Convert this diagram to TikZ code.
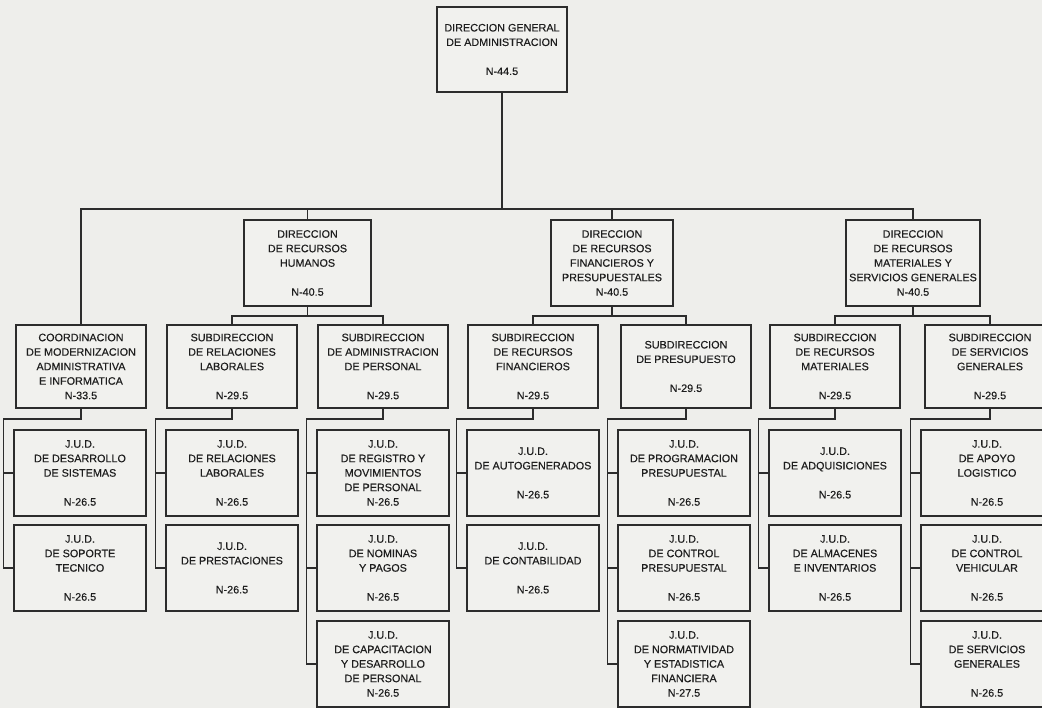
\documentclass[tikz,border=0pt]{standalone}
\usepackage{fontspec}
\setmainfont{Liberation Sans}
\newfontfamily\orgfont{Liberation Sans}[FakeBold=0.35]
\definecolor{bgc}{HTML}{EEEEEB}
\definecolor{boxc}{HTML}{F1F1EE}
\definecolor{linec}{HTML}{2C2C2C}
\definecolor{textc}{HTML}{1E1E1E}
\begin{document}
\begin{tikzpicture}[x=1pt,y=-1pt,
  box/.style={draw=linec, line width=1.4pt, fill=boxc, align=center, inner sep=0pt,
    font=\orgfont\fontsize{10.8}{14.5}\selectfont, text=textc},
  topbox/.style={box, minimum width=130pt, minimum height=85pt},
  dirbox/.style={box, minimum height=86pt},
  subbox/.style={box, minimum width=130pt, minimum height=83pt},
  judbox/.style={box, minimum width=132pt, minimum height=86pt},
  link/.style={draw=linec, line width=1.4pt}]
\fill[bgc] (0,0) rectangle (1042,708);
\useasboundingbox (0,0) rectangle (1042,708);

% top
\node[topbox] (top) at (502,49.5) {DIRECCION GENERAL\\DE ADMINISTRACION\\[14.5pt]N-44.5};

% directions
\node[dirbox, minimum width=127pt] (drh) at (307.5,263) {DIRECCION\\DE RECURSOS\\HUMANOS\\[14.5pt]N-40.5};
\node[dirbox, minimum width=122pt] (drf) at (612,263) {DIRECCION\\DE RECURSOS\\FINANCIEROS Y\\PRESUPUESTALES\\N-40.5};
\node[dirbox, minimum width=134pt] (drm) at (913,263) {DIRECCION\\DE RECURSOS\\MATERIALES Y\\SERVICIOS GENERALES\\N-40.5};

% subdirections
\node[subbox] (co) at (81,366.5) {COORDINACION\\DE MODERNIZACION\\ADMINISTRATIVA\\E INFORMATICA\\N-33.5};
\node[subbox] (srl) at (232,366.5) {SUBDIRECCION\\DE RELACIONES\\LABORALES\\[14.5pt]N-29.5};
\node[subbox] (sap) at (383,366.5) {SUBDIRECCION\\DE ADMINISTRACION\\DE PERSONAL\\[14.5pt]N-29.5};
\node[subbox] (srf) at (533,366.5) {SUBDIRECCION\\DE RECURSOS\\FINANCIEROS\\[14.5pt]N-29.5};
\node[subbox] (sp) at (686,366.5) {SUBDIRECCION\\DE PRESUPUESTO\\[14.5pt]N-29.5};
\node[subbox] (srm) at (835,366.5) {SUBDIRECCION\\DE RECURSOS\\MATERIALES\\[14.5pt]N-29.5};
\node[subbox] (ssg) at (990,366.5) {SUBDIRECCION\\DE SERVICIOS\\GENERALES\\[14.5pt]N-29.5};

% J.U.D. column 1
\node[judbox] (j11) at (80,473) {J.U.D.\\DE DESARROLLO\\DE SISTEMAS\\[14.5pt]N-26.5};
\node[judbox] (j12) at (80,568) {J.U.D.\\DE SOPORTE\\TECNICO\\[14.5pt]N-26.5};
% column 2
\node[judbox] (j21) at (232,473) {J.U.D.\\DE RELACIONES\\LABORALES\\[14.5pt]N-26.5};
\node[judbox] (j22) at (232,568) {J.U.D.\\DE PRESTACIONES\\[14.5pt]N-26.5};
% column 3
\node[judbox] (j31) at (383,473) {J.U.D.\\DE REGISTRO Y\\MOVIMIENTOS\\DE PERSONAL\\N-26.5};
\node[judbox] (j32) at (383,568) {J.U.D.\\DE NOMINAS\\Y PAGOS\\[14.5pt]N-26.5};
\node[judbox] (j33) at (383,664) {J.U.D.\\DE CAPACITACION\\Y DESARROLLO\\DE PERSONAL\\N-26.5};
% column 4
\node[judbox] (j41) at (533,473) {J.U.D.\\DE AUTOGENERADOS\\[14.5pt]N-26.5};
\node[judbox] (j42) at (533,568) {J.U.D.\\DE CONTABILIDAD\\[14.5pt]N-26.5};
% column 5
\node[judbox] (j51) at (684,473) {J.U.D.\\DE PROGRAMACION\\PRESUPUESTAL\\[14.5pt]N-26.5};
\node[judbox] (j52) at (684,568) {J.U.D.\\DE CONTROL\\PRESUPUESTAL\\[14.5pt]N-26.5};
\node[judbox] (j53) at (684,664) {J.U.D.\\DE NORMATIVIDAD\\Y ESTADISTICA\\FINANCIERA\\N-27.5};
% column 6
\node[judbox] (j61) at (835,473) {J.U.D.\\DE ADQUISICIONES\\[14.5pt]N-26.5};
\node[judbox] (j62) at (835,568) {J.U.D.\\DE ALMACENES\\E INVENTARIOS\\[14.5pt]N-26.5};
% column 7
\node[judbox] (j71) at (987,473) {J.U.D.\\DE APOYO\\LOGISTICO\\[14.5pt]N-26.5};
\node[judbox] (j72) at (987,568) {J.U.D.\\DE CONTROL\\VEHICULAR\\[14.5pt]N-26.5};
\node[judbox] (j73) at (987,664) {J.U.D.\\DE SERVICIOS\\GENERALES\\[14.5pt]N-26.5};

% main bus
\coordinate (mbL) at (co.north |- 0,209);
\coordinate (mbR) at (drm.north |- 0,209);
\draw[link] (co.north) -- (mbL) -- (mbR) -- (drm.north);
\draw[link] (top.south) -- (top.south |- mbL);
\draw[link] (drh.north) -- (drh.north |- mbL);
\draw[link] (drf.north) -- (drf.north |- mbL);

% second-level buses
\coordinate (bh) at (drh.south |- 0,316);
\coordinate (bf) at (drf.south |- 0,316);
\coordinate (bm) at (drm.south |- 0,316);
\draw[link] (drh.south) -- (bh);
\draw[link] (srl.north) |- (bh) -| (sap.north);
\draw[link] (drf.south) -- (bf);
\draw[link] (srf.north) |- (bf) -| (sp.north);
\draw[link] (drm.south) -- (bm);
\draw[link] (srm.north) |- (bm) -| (ssg.north);

% J.U.D. brackets
\coordinate (l1) at ([xshift=-10pt]j11.west |- 0,419);
\draw[link] (co.south) |- (l1) |- (j12.west);
\draw[link] (l1 |- j11.west) -- (j11.west);

\coordinate (l2) at ([xshift=-10pt]j21.west |- 0,419);
\draw[link] (srl.south) |- (l2) |- (j22.west);
\draw[link] (l2 |- j21.west) -- (j21.west);

\coordinate (l3) at ([xshift=-10pt]j31.west |- 0,419);
\draw[link] (sap.south) |- (l3) |- (j33.west);
\draw[link] (l3 |- j31.west) -- (j31.west);
\draw[link] (l3 |- j32.west) -- (j32.west);

\coordinate (l4) at ([xshift=-10pt]j41.west |- 0,419);
\draw[link] (srf.south) |- (l4) |- (j42.west);
\draw[link] (l4 |- j41.west) -- (j41.west);

\coordinate (l5) at ([xshift=-10pt]j51.west |- 0,419);
\draw[link] (sp.south) |- (l5) |- (j53.west);
\draw[link] (l5 |- j51.west) -- (j51.west);
\draw[link] (l5 |- j52.west) -- (j52.west);

\coordinate (l6) at ([xshift=-10pt]j61.west |- 0,419);
\draw[link] (srm.south) |- (l6) |- (j62.west);
\draw[link] (l6 |- j61.west) -- (j61.west);

\coordinate (l7) at ([xshift=-10pt]j71.west |- 0,419);
\draw[link] (ssg.south) |- (l7) |- (j73.west);
\draw[link] (l7 |- j71.west) -- (j71.west);
\draw[link] (l7 |- j72.west) -- (j72.west);
\end{tikzpicture}
\end{document}
